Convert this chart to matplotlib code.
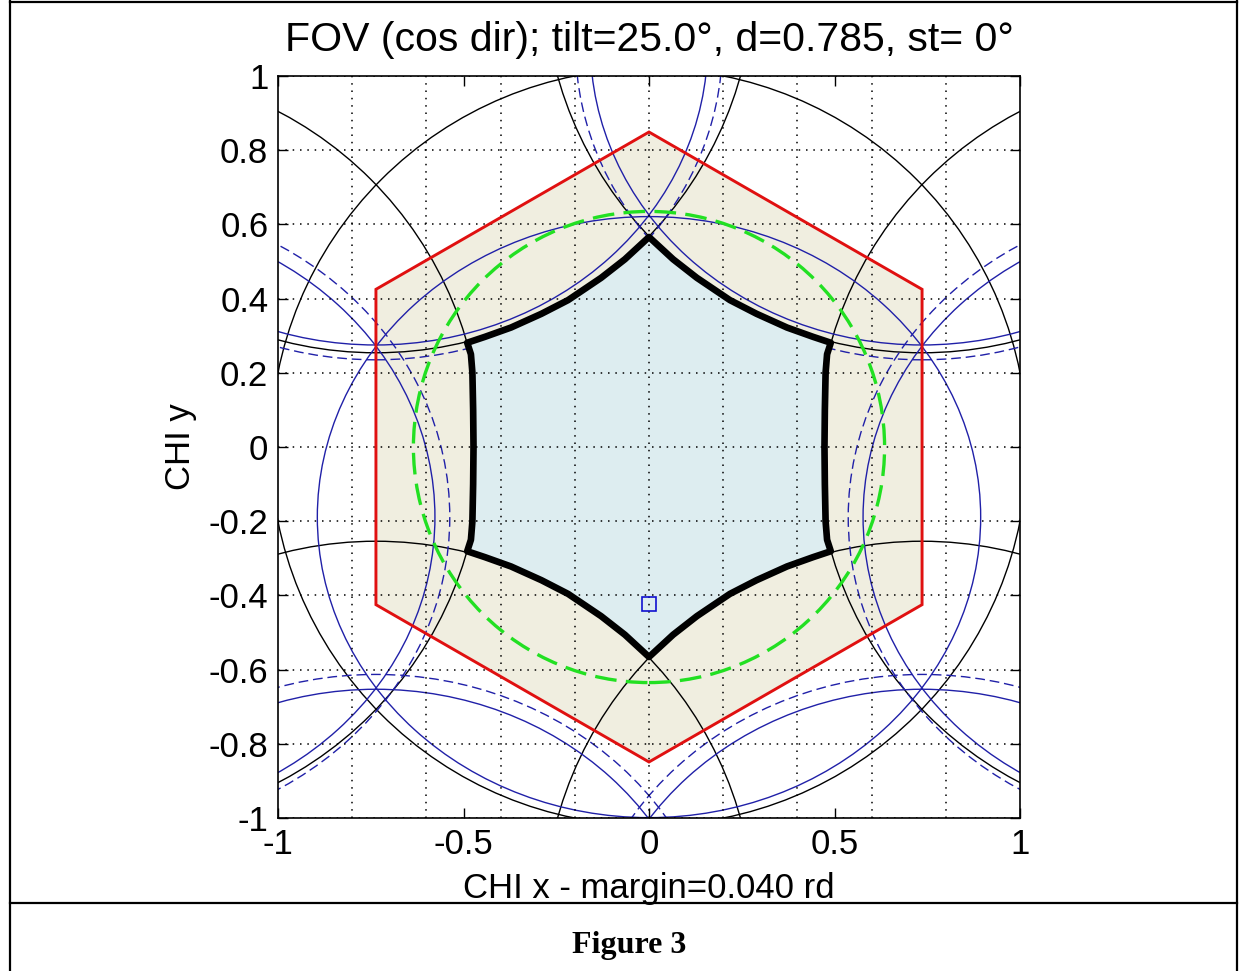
import matplotlib
matplotlib.use("Agg")
import matplotlib.pyplot as plt
from matplotlib.patches import Circle, Ellipse, Polygon
from matplotlib.lines import Line2D

# alias centres of the hexagonal grid (director cosines)
alias_x = [1.471, 0.736, -0.736, -1.471, -0.736, 0.736]
alias_y = [0.0, 1.274, 1.274, 0.0, -1.274, -1.274]
horizon_r = 1.02

# earth disc contour, central one first, then the six aliases
earth_x = [0.0, 1.471, 0.736, -0.736, -1.471, -0.736, 0.736]
earth_y = [-0.189, -0.189, 1.085, 1.085, -0.189, -1.463, -1.463]
earth_w, earth_h = 1.788, 1.62
earth_w_m, earth_h_m = 1.868, 1.70   # with margin

# red hexagon (fundamental cell)
hex_x = [0.0, 0.736, 0.736, 0.0, -0.736, -0.736]
hex_y = [0.849, 0.425, -0.425, -0.849, -0.425, 0.425]

# alias free FOV (thick black)
star_x = [0.0, 0.065, 0.129, 0.218, 0.29, 0.372, 0.442, 0.49,
          0.48, 0.476, 0.474, 0.473, 0.474, 0.476, 0.48,
          0.49, 0.442, 0.372, 0.29, 0.218, 0.129, 0.065, 0.0,
          -0.065, -0.129, -0.218, -0.29, -0.372, -0.442, -0.49,
          -0.48, -0.476, -0.474, -0.473, -0.474, -0.476, -0.48,
          -0.49, -0.442, -0.372, -0.29, -0.218, -0.129, -0.065]
star_y = [0.566, 0.506, 0.456, 0.396, 0.359, 0.322, 0.297, 0.281,
          0.25, 0.2, 0.1, 0.0, -0.1, -0.2, -0.25,
          -0.281, -0.297, -0.322, -0.359, -0.396, -0.456, -0.506, -0.566,
          -0.506, -0.456, -0.396, -0.359, -0.322, -0.297, -0.281,
          -0.25, -0.2, -0.1, 0.0, 0.1, 0.2, 0.25,
          0.281, 0.297, 0.322, 0.359, 0.396, 0.456, 0.506]

green_r = 0.635
nadir_x, nadir_y = 0.0, -0.423

xtick_vals = [-1, -0.5, 0, 0.5, 1]
xtick_txt = ['-1', '-0.5', '0', '0.5', '1']
ytick_vals = [-1, -0.8, -0.6, -0.4, -0.2, 0, 0.2, 0.4, 0.6, 0.8, 1]
ytick_txt = ['-1', '-0.8', '-0.6', '-0.4', '-0.2', '0', '0.2', '0.4', '0.6', '0.8', '1']
xgrid_vals = [-0.8, -0.6, -0.4, -0.2, 0, 0.2, 0.4, 0.6, 0.8]

plt.rcParams['font.family'] = ['Liberation Sans', 'DejaVu Sans']
blue = '#2020a8'

fig = plt.figure(figsize=(12.45, 9.71), dpi=100)
ax = fig.add_axes([278 / 1245, (971 - 818) / 971, 742 / 1245, 742 / 971])

ax.fill(hex_x, hex_y, color='#f0eee0', zorder=1)

for cx, cy in zip([0.0] + alias_x, [0.0] + alias_y):
    ax.add_patch(Circle((cx, cy), horizon_r, fill=False, ec='k', lw=1.0, zorder=2))

for i, (cx, cy) in enumerate(zip(earth_x, earth_y)):
    ax.add_patch(Ellipse((cx, cy), earth_w, earth_h, fill=False, ec=blue, lw=1.0, zorder=2))
    if i > 0:
        ax.add_patch(Ellipse((cx, cy), earth_w_m, earth_h_m, fill=False, ec=blue,
                             lw=1.0, ls=(0, (7, 3.5)), zorder=2))

ax.add_patch(Polygon(list(zip(hex_x, hex_y)), closed=True, fill=False, ec='#e01010', lw=2.1, zorder=2.8))
ax.add_patch(Circle((0, 0), green_r, fill=False, ec='#22e022', lw=2.4, ls=(0, (6.5, 2.8)), zorder=2.9))

ax.fill(star_x, star_y, color='#ddedf0', zorder=2.3)
ax.add_patch(Polygon(list(zip(star_x, star_y)), closed=True, fill=False, ec='k', lw=4.8,
                     joinstyle='round', zorder=3))

ax.plot([nadir_x], [nadir_y], 's', ms=10, mfc='none', mec='#1010d0', mew=1.2, zorder=4)

ax.set_xlim(-1, 1)
ax.set_ylim(-1, 1)
ax.set_xticks(xtick_vals)
ax.set_xticklabels(xtick_txt)
ax.set_yticks(ytick_vals)
ax.set_yticklabels(ytick_txt)
ax.xaxis.remove_overlapping_locs = False
ax.set_xticks(xgrid_vals, minor=True)
ax.tick_params(which='minor', length=0)
ax.tick_params(which='major', direction='in', length=7, width=1, top=True, right=True,
               labelsize=25, pad=7)
ax.set_axisbelow(False)
ax.xaxis.grid(True, which='minor', color='k', lw=1.1, ls=(0, (1, 3.8)))
ax.yaxis.grid(True, which='major', color='k', lw=1.1, ls=(0, (1, 3.8)))
for s in ax.spines.values():
    s.set_linewidth(1.2)

ax.set_title('FOV (cos dir); tilt=25.0°, d=0.785, st= 0°', fontsize=29.5, pad=18)
ax.set_xlabel('CHI x - margin=0.040 rd', fontsize=25, labelpad=8)
ax.set_ylabel('CHI y', fontsize=25, labelpad=8)

# table frame around the figure
W, H = 1245, 971
for x0, y0, x1, y1 in [(10, 0, 10, H), (1237, 0, 1237, H), (10, 2, 1237, 2), (10, 903, 1237, 903)]:
    fig.add_artist(Line2D([x0 / W, x1 / W], [1 - y0 / H, 1 - y1 / H], color='k', lw=1.6))
fig.text(629 / W, 1 - 945 / H, 'Figure 3', ha='center', va='center', fontsize=23,
         fontweight='bold', family=['Liberation Serif', 'DejaVu Serif'])

fig.savefig('out.png', dpi=100)
